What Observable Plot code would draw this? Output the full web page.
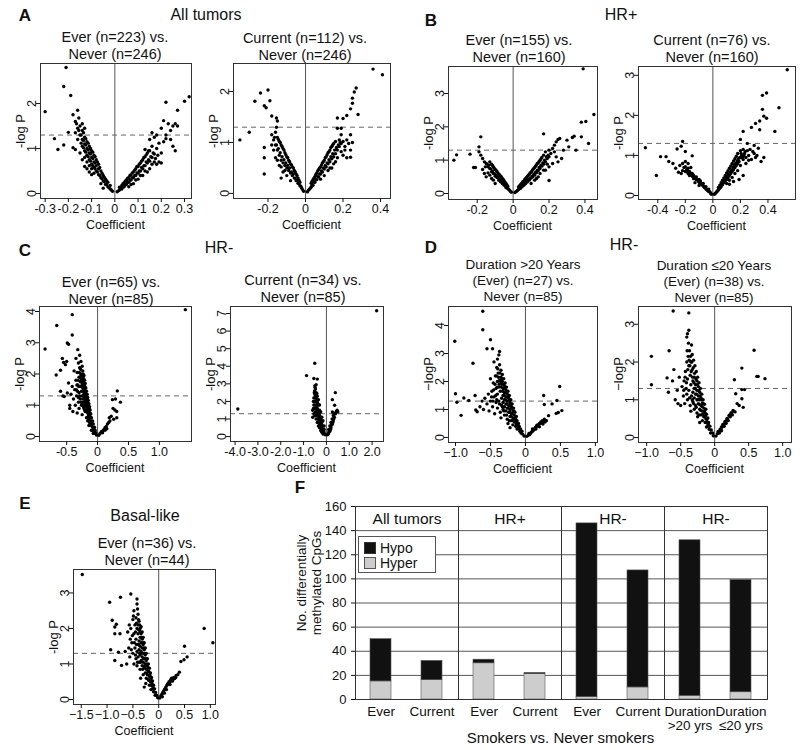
<!DOCTYPE html>
<html>
<head>
<meta charset="utf-8">
<script src="https://cdn.jsdelivr.net/npm/d3@7"></script>
<script src="https://cdn.jsdelivr.net/npm/@observablehq/plot@0.6"></script>
<style>
  html, body { margin: 0; padding: 0; background: #fff; }
  #root { position: relative; width: 800px; height: 750px; background: #fff; font-family: "Liberation Sans", Arial, sans-serif; color: #111; overflow: hidden; }
  .lbl { position: absolute; white-space: nowrap; transform: translate(-50%, -50%); line-height: 1; }
  .chart { position: absolute; }
  .chart svg { overflow: visible; }
</style>
</head>
<body>
<div id="root"></div>
<script>
const FONT = '"Liberation Sans", Arial, sans-serif';
const sigThreshold = 1.3; // -log10(0.05)

// ---------------- Panel A: All tumors ----------------
const a1Points = [[-0.01,0.05],[-0.02,0.1],[-0.02,0.18],[-0.03,0.15],[-0.03,0.25],[-0.04,0.2],[-0.04,0.32],[-0.05,0.28],[-0.05,0.4],[-0.06,0.35],[-0.06,0.5],[-0.07,0.42],[-0.07,0.55],[-0.07,0.65],[-0.08,0.5],[-0.08,0.62],[-0.08,0.75],[-0.09,0.58],[-0.09,0.7],[-0.09,0.85],[-0.1,0.65],[-0.1,0.8],[-0.1,0.95],[-0.11,0.75],[-0.11,0.9],[-0.11,1.05],[-0.12,0.85],[-0.12,1.0],[-0.12,1.15],[-0.13,0.95],[-0.13,1.1],[-0.13,1.25],[-0.14,1.05],[-0.14,1.2],[-0.14,1.4],[-0.15,1.3],[-0.15,1.5],[-0.16,1.2],[-0.16,1.45],[-0.17,1.6],[-0.17,1.35],[-0.18,1.75],[-0.16,1.85],[-0.14,1.55],[-0.13,1.45],[-0.155,1.68],[-0.1,0.55],[-0.12,0.7],[-0.15,0.9],[-0.13,0.6],[-0.14,0.75],[-0.09,0.45],[-0.06,0.22],[-0.05,0.12],[-0.11,0.48],[-0.3,1.82],[-0.21,2.8],[-0.22,2.38],[-0.19,2.18],[-0.26,1.22],[-0.245,0.98],[-0.22,1.08],[-0.2,1.36],[-0.18,1.02],[-0.17,0.98],
 [-0.015,0.08],[-0.025,0.13],[-0.035,0.2],[-0.035,0.28],[-0.045,0.26],[-0.045,0.36],[-0.055,0.33],[-0.055,0.45],[-0.065,0.4],[-0.065,0.58],[-0.075,0.48],[-0.075,0.7],[-0.085,0.55],[-0.085,0.68],[-0.085,0.82],[-0.095,0.62],[-0.095,0.78],[-0.095,0.92],[-0.105,0.72],[-0.105,0.88],[-0.105,1.0],[-0.115,0.82],[-0.115,0.97],[-0.115,1.12],[-0.125,0.92],[-0.125,1.08],[-0.125,1.22],[-0.135,1.02],[-0.135,1.18],[-0.135,1.35],[-0.145,1.12],[-0.145,1.3],[-0.155,1.4],[-0.165,1.55],[-0.11,0.62],[-0.1,0.42],[-0.12,0.55],[-0.13,0.8],
 [0.01,0.04],[0.02,0.08],[0.02,0.14],[0.03,0.1],[0.03,0.18],[0.04,0.15],[0.04,0.24],[0.05,0.2],[0.05,0.3],[0.06,0.25],[0.06,0.35],[0.07,0.3],[0.07,0.42],[0.08,0.35],[0.08,0.48],[0.09,0.4],[0.09,0.55],[0.1,0.45],[0.1,0.6],[0.11,0.5],[0.11,0.68],[0.12,0.55],[0.12,0.75],[0.13,0.62],[0.13,0.82],[0.14,0.68],[0.14,0.9],[0.15,0.72],[0.15,0.95],[0.16,0.8],[0.16,1.05],[0.17,0.7],[0.17,0.88],[0.18,0.65],[0.18,1.0],[0.19,0.7],[0.19,1.12],[0.2,0.68],[0.2,0.9],[0.16,1.35],[0.17,1.25],[0.18,1.3],[0.21,1.15],[0.22,1.22],[0.2,1.45],[0.22,1.3],[0.23,1.55],[0.24,1.4],[0.25,1.5],[0.26,1.55],[0.27,1.5],[0.24,1.2],[0.25,1.05],[0.26,0.95],[0.22,2.03],[0.27,1.85],[0.3,2.05],[0.32,2.15],[0.21,1.62],[0.15,1.2],[0.13,0.98],[0.12,0.4],[0.1,0.32],[0.08,0.22],[0.06,0.15],[0.15,0.55],[0.14,0.48],
 [0.015,0.06],[0.025,0.12],[0.035,0.14],[0.035,0.22],[0.045,0.19],[0.045,0.28],[0.055,0.25],[0.055,0.34],[0.065,0.3],[0.065,0.4],[0.075,0.35],[0.075,0.46],[0.085,0.4],[0.085,0.52],[0.095,0.46],[0.095,0.6],[0.105,0.5],[0.105,0.65],[0.115,0.58],[0.115,0.72],[0.125,0.62],[0.125,0.8],[0.135,0.7],[0.135,0.86],[0.145,0.75],[0.145,0.95],[0.155,0.82],[0.165,0.9],[0.175,0.78],[0.185,0.85],[0.11,0.4],[0.13,0.5],[0.16,0.65],[0.09,0.3],[0.07,0.2]];

const a2Points = [[-0.01,0.04],[-0.02,0.1],[-0.03,0.15],[-0.03,0.22],[-0.04,0.2],[-0.04,0.3],[-0.05,0.25],[-0.05,0.38],[-0.06,0.3],[-0.06,0.45],[-0.07,0.35],[-0.07,0.52],[-0.08,0.4],[-0.08,0.58],[-0.09,0.45],[-0.09,0.65],[-0.1,0.5],[-0.1,0.72],[-0.11,0.55],[-0.11,0.8],[-0.12,0.6],[-0.12,0.88],[-0.13,0.65],[-0.13,0.95],[-0.14,0.75],[-0.14,1.02],[-0.15,0.85],[-0.15,1.1],[-0.16,0.95],[-0.16,1.2],[-0.17,1.05],[-0.18,0.95],[-0.12,0.42],[-0.14,0.55],[-0.1,0.35],[-0.16,0.7],[-0.18,1.15],[-0.13,0.3],[-0.08,0.25],
 [-0.015,0.07],[-0.025,0.14],[-0.035,0.19],[-0.035,0.26],[-0.045,0.25],[-0.045,0.35],[-0.055,0.3],[-0.055,0.42],[-0.065,0.38],[-0.065,0.5],[-0.075,0.42],[-0.075,0.56],[-0.085,0.5],[-0.085,0.62],[-0.095,0.55],[-0.095,0.7],[-0.105,0.6],[-0.105,0.76],[-0.115,0.66],[-0.115,0.85],[-0.125,0.72],[-0.125,0.92],[-0.135,0.8],[-0.135,1.0],[-0.145,0.88],[-0.145,1.06],[-0.155,0.95],[-0.165,1.1],[-0.11,0.45],[-0.13,0.52],[-0.15,0.65],[-0.17,0.85],
 [-0.35,1.05],[-0.3,1.2],[-0.27,1.81],[-0.24,1.97],[-0.2,2.03],[-0.22,0.9],[-0.22,0.7],[-0.22,0.38],[-0.22,1.72],[-0.21,1.68],[-0.19,1.82],[-0.18,1.52],[-0.155,1.48],[-0.15,1.42],[-0.155,1.3],
 [0.01,0.03],[0.02,0.08],[0.03,0.12],[0.03,0.2],[0.04,0.16],[0.04,0.27],[0.05,0.22],[0.05,0.33],[0.06,0.27],[0.06,0.4],[0.07,0.32],[0.07,0.47],[0.08,0.38],[0.08,0.52],[0.09,0.42],[0.09,0.6],[0.1,0.48],[0.1,0.65],[0.11,0.52],[0.11,0.72],[0.12,0.58],[0.12,0.8],[0.13,0.62],[0.13,0.85],[0.14,0.68],[0.14,0.92],[0.15,0.72],[0.15,0.98],[0.16,0.78],[0.16,1.02],[0.17,0.85],[0.18,0.92],[0.18,1.05],[0.19,0.98],[0.2,1.02],[0.21,0.92],[0.22,1.05],[0.23,0.98],[0.24,0.85],[0.25,1.0],[0.24,1.15],[0.19,1.15],[0.1,0.35],[0.12,0.45],[0.14,0.5],[0.08,0.28],[0.16,0.62],[0.2,0.75],[0.22,0.7],
 [0.015,0.06],[0.025,0.1],[0.035,0.16],[0.035,0.24],[0.045,0.22],[0.045,0.3],[0.055,0.27],[0.055,0.37],[0.065,0.33],[0.065,0.44],[0.075,0.38],[0.075,0.5],[0.085,0.44],[0.085,0.56],[0.095,0.5],[0.095,0.62],[0.105,0.55],[0.105,0.7],[0.115,0.6],[0.115,0.76],[0.125,0.66],[0.125,0.82],[0.135,0.72],[0.135,0.9],[0.145,0.78],[0.145,0.95],[0.155,0.85],[0.165,0.9],[0.175,0.95],[0.185,1.0],[0.13,0.5],[0.15,0.58],[0.17,0.7],[0.19,0.82],[0.21,0.85],
 [0.36,2.44],[0.41,2.33],[0.27,2.07],[0.26,1.99],[0.25,1.87],[0.25,1.77],[0.28,1.55],[0.24,1.66],[0.22,1.53],[0.17,1.48],[0.2,1.47],[0.17,1.28],[0.19,1.28],[0.24,0.71]];

// ---------------- Panel B: HR+ ----------------
const b1Points = [[-0.01,0.04],[-0.02,0.1],[-0.03,0.15],[-0.03,0.22],[-0.04,0.18],[-0.04,0.3],[-0.05,0.25],[-0.05,0.38],[-0.06,0.3],[-0.06,0.45],[-0.07,0.35],[-0.07,0.52],[-0.08,0.4],[-0.08,0.58],[-0.09,0.48],[-0.09,0.66],[-0.1,0.52],[-0.1,0.72],[-0.11,0.6],[-0.11,0.8],[-0.12,0.65],[-0.12,0.88],[-0.13,0.75],[-0.13,0.95],[-0.14,0.8],[-0.15,0.9],[-0.16,0.95],[-0.17,1.05],[-0.18,1.15],[-0.19,1.25],[-0.18,1.7],[-0.19,1.4],[-0.17,0.72],[-0.16,0.6],[-0.15,0.5],[-0.24,1.18],[-0.22,0.78],[-0.21,0.78],[-0.33,1.0],[-0.315,1.16],[-0.12,0.45],[-0.1,0.3],[-0.14,0.62],
 [-0.015,0.07],[-0.025,0.13],[-0.035,0.18],[-0.035,0.26],[-0.045,0.24],[-0.045,0.34],[-0.055,0.3],[-0.055,0.42],[-0.065,0.36],[-0.065,0.5],[-0.075,0.42],[-0.075,0.56],[-0.085,0.48],[-0.085,0.62],[-0.095,0.55],[-0.095,0.7],[-0.105,0.6],[-0.105,0.76],[-0.115,0.68],[-0.115,0.84],[-0.125,0.74],[-0.135,0.85],[-0.145,0.88],[-0.155,0.8],[-0.11,0.4],[-0.13,0.55],
 [0.01,0.03],[0.02,0.07],[0.03,0.12],[0.03,0.2],[0.04,0.15],[0.04,0.26],[0.05,0.2],[0.05,0.32],[0.06,0.25],[0.06,0.38],[0.07,0.3],[0.07,0.45],[0.08,0.35],[0.08,0.52],[0.09,0.4],[0.09,0.58],[0.1,0.46],[0.1,0.64],[0.11,0.5],[0.11,0.72],[0.12,0.55],[0.12,0.78],[0.13,0.62],[0.13,0.86],[0.14,0.68],[0.14,0.92],[0.15,0.75],[0.15,1.0],[0.16,0.82],[0.16,1.08],[0.17,0.88],[0.17,1.15],[0.18,0.95],[0.18,1.25],[0.19,1.05],[0.2,1.1],[0.2,1.3],[0.21,1.2],[0.22,1.35],[0.23,1.45],[0.24,1.55],[0.25,1.62],[0.26,1.65],[0.23,1.25],[0.24,1.1],[0.25,0.95],[0.27,1.05],[0.28,1.3],[0.3,1.6],[0.31,1.4],[0.33,1.68],[0.35,1.3],[0.34,1.72],[0.38,1.7],[0.38,2.14],[0.405,2.16],[0.39,3.74],[0.45,2.37],[0.42,1.5],[0.17,1.79],[0.2,0.39],[0.12,0.4],[0.1,0.3],[0.14,0.5],[0.18,0.7],[0.22,0.9],[0.2,0.8],
 [0.015,0.05],[0.025,0.1],[0.035,0.15],[0.035,0.23],[0.045,0.2],[0.045,0.29],[0.055,0.25],[0.055,0.36],[0.065,0.3],[0.065,0.42],[0.075,0.36],[0.075,0.48],[0.085,0.42],[0.085,0.55],[0.095,0.46],[0.095,0.62],[0.105,0.52],[0.105,0.68],[0.115,0.58],[0.115,0.75],[0.125,0.64],[0.125,0.82],[0.135,0.7],[0.135,0.9],[0.145,0.78],[0.145,0.96],[0.155,0.85],[0.155,1.04],[0.165,0.92],[0.175,1.0],[0.185,1.1],[0.195,1.15],[0.13,0.45],[0.15,0.6],[0.17,0.7],[0.19,0.88]];

const b2Points = [[-0.01,0.03],[-0.02,0.08],[-0.03,0.1],[-0.03,0.16],[-0.04,0.13],[-0.05,0.16],[-0.05,0.22],[-0.06,0.2],[-0.07,0.24],[-0.07,0.3],[-0.08,0.27],[-0.09,0.3],[-0.09,0.36],[-0.1,0.33],[-0.11,0.38],[-0.12,0.4],[-0.12,0.46],[-0.13,0.42],[-0.14,0.5],[-0.15,0.48],[-0.15,0.55],[-0.16,0.52],[-0.17,0.6],[-0.18,0.55],[-0.19,0.65],[-0.2,0.6],[-0.21,0.7],[-0.22,0.62],[-0.23,0.55],[-0.24,0.75],[-0.2,0.85],[-0.22,1.35],[-0.23,1.23],[-0.26,1.16],[-0.2,1.1],[-0.15,0.99],[-0.32,0.85],[-0.34,0.97],[-0.38,0.97],[-0.41,0.5],[-0.49,1.19],[-0.25,0.58],[-0.18,0.8],[-0.16,0.7],[-0.1,0.25],[-0.13,0.32],[-0.27,0.68],[-0.29,0.8],
 [-0.015,0.05],[-0.025,0.1],[-0.035,0.12],[-0.045,0.16],[-0.055,0.19],[-0.065,0.22],[-0.075,0.27],[-0.085,0.3],[-0.095,0.33],[-0.105,0.36],[-0.115,0.4],[-0.125,0.43],[-0.135,0.47],[-0.145,0.52],[-0.155,0.52],[-0.165,0.56],[-0.175,0.58],[-0.185,0.62],[-0.195,0.6],[-0.1,0.4],[-0.14,0.42],[-0.17,0.5],[-0.2,0.72],[-0.22,0.8],[-0.18,0.68],
 [0.01,0.03],[0.02,0.06],[0.03,0.1],[0.04,0.14],[0.04,0.2],[0.05,0.18],[0.05,0.26],[0.06,0.22],[0.06,0.32],[0.07,0.27],[0.07,0.38],[0.08,0.32],[0.08,0.44],[0.09,0.36],[0.09,0.5],[0.1,0.4],[0.1,0.56],[0.11,0.45],[0.11,0.62],[0.12,0.5],[0.12,0.68],[0.13,0.55],[0.13,0.74],[0.14,0.6],[0.14,0.8],[0.15,0.64],[0.15,0.86],[0.16,0.7],[0.16,0.92],[0.17,0.75],[0.17,0.98],[0.18,0.8],[0.18,1.05],[0.19,0.85],[0.2,0.95],[0.2,1.12],[0.21,1.0],[0.22,0.9],[0.22,1.15],[0.23,1.05],[0.24,0.95],[0.25,1.12],[0.26,1.0],[0.27,1.15],[0.28,0.9],[0.3,1.05],[0.32,1.0],[0.33,1.18],[0.35,0.85],[0.3,1.25],[0.25,1.3],[0.2,1.4],[0.22,1.6],[0.28,1.7],[0.31,1.8],[0.34,1.64],[0.34,1.86],[0.36,2.15],[0.37,1.98],[0.39,1.93],[0.36,2.5],[0.39,2.56],[0.48,2.19],[0.45,1.6],[0.54,3.14],[0.37,0.95],[0.19,0.4],[0.15,0.35],[0.12,0.28],[0.22,0.5],
 [0.015,0.04],[0.025,0.08],[0.035,0.12],[0.045,0.17],[0.055,0.22],[0.065,0.28],[0.075,0.32],[0.085,0.38],[0.095,0.43],[0.105,0.48],[0.115,0.53],[0.125,0.58],[0.135,0.64],[0.145,0.7],[0.155,0.75],[0.165,0.8],[0.175,0.86],[0.185,0.92],[0.195,0.95],[0.205,1.05],[0.215,0.95],[0.225,1.0],[0.235,1.1],[0.1,0.3],[0.12,0.38],[0.14,0.45],[0.16,0.55],[0.18,0.62],[0.2,0.75],[0.24,0.8],[0.26,0.88],[0.29,1.1],[0.31,0.95]];

// ---------------- Panel C: HR- ----------------
const c1Points = [[-0.02,0.05],[-0.03,0.12],[-0.04,0.2],[-0.05,0.15],[-0.05,0.3],[-0.06,0.25],[-0.07,0.4],[-0.08,0.3],[-0.08,0.5],[-0.09,0.42],[-0.1,0.6],[-0.1,0.35],[-0.11,0.5],[-0.11,0.72],[-0.12,0.6],[-0.12,0.85],[-0.13,0.45],[-0.13,0.7],[-0.13,0.95],[-0.14,0.55],[-0.14,0.8],[-0.14,1.05],[-0.15,0.65],[-0.15,0.9],[-0.15,1.15],[-0.16,0.75],[-0.16,1.0],[-0.16,1.25],[-0.17,0.85],[-0.17,1.1],[-0.17,1.35],[-0.18,0.95],[-0.18,1.2],[-0.18,1.45],[-0.19,1.05],[-0.19,1.3],[-0.19,1.55],[-0.2,0.8],[-0.2,1.15],[-0.2,1.4],[-0.2,1.7],[-0.21,1.0],[-0.21,1.25],[-0.21,1.5],[-0.21,1.8],[-0.22,0.9],[-0.22,1.35],[-0.22,1.6],[-0.22,1.95],[-0.23,1.1],[-0.23,1.45],[-0.23,1.75],[-0.24,1.2],[-0.24,1.55],[-0.24,1.9],[-0.24,2.1],[-0.25,1.3],[-0.25,1.65],[-0.25,2.25],[-0.26,1.0],[-0.26,1.45],[-0.26,1.85],[-0.27,1.6],[-0.27,2.0],[-0.27,2.4],[-0.28,1.2],[-0.28,1.75],[-0.29,2.2],[-0.29,2.6],[-0.3,1.4],[-0.3,1.9],[-0.31,2.35],[-0.31,1.1],[-0.32,1.65],[-0.32,2.78],[-0.33,2.05],[-0.34,1.3],[-0.35,1.8],[-0.35,2.5],[-0.36,1.0],[-0.37,1.5],[-0.38,2.1],[-0.39,1.2],[-0.4,0.8],[-0.41,1.6],[-0.41,3.25],[-0.41,3.9],[-0.43,1.35],[-0.45,0.9],[-0.45,1.0],[-0.47,1.71],[-0.47,2.95],[-0.49,1.39],[-0.49,2.99],[-0.5,2.4],[-0.52,2.3],[-0.54,1.28],[-0.55,2.37],[-0.56,1.3],[-0.57,2.5],[-0.6,1.45],[-0.6,2.12],[-0.66,3.55],[-0.67,1.97],[-0.85,2.8],[-0.3,0.9],[-0.25,0.7],[-0.33,0.75],[-0.18,0.6],[-0.1,0.2],[-0.07,0.1],
 [-0.105,0.45],[-0.115,0.62],[-0.125,0.75],[-0.135,0.62],[-0.135,0.88],[-0.145,0.72],[-0.145,0.95],[-0.155,0.8],[-0.155,1.05],[-0.165,0.9],[-0.165,1.15],[-0.175,1.0],[-0.175,1.25],[-0.185,1.1],[-0.185,1.35],[-0.195,1.2],[-0.195,1.45],[-0.205,1.3],[-0.205,1.6],[-0.215,1.4],[-0.215,1.7],[-0.225,1.5],[-0.225,1.85],[-0.235,1.6],[-0.235,2.0],[-0.245,1.7],[-0.255,1.8],[-0.265,1.95],[-0.275,2.15],[-0.285,1.9],[-0.295,2.05],[-0.305,1.6],[-0.315,1.8],[-0.325,1.45],[-0.335,1.65],[-0.345,1.5],[-0.23,0.95],[-0.27,1.1],[-0.29,1.3],[-0.31,1.25],[-0.25,1.05],[-0.19,0.8],[-0.21,0.85],[-0.16,0.5],[-0.14,0.35],[-0.08,0.2],[-0.06,0.1],
 [0.02,0.04],[0.04,0.1],[0.06,0.15],[0.08,0.18],[0.1,0.22],[0.12,0.28],[0.14,0.32],[0.16,0.4],[0.18,0.45],[0.2,0.5],[0.15,0.25],[0.19,0.6],[0.22,0.65],[0.26,0.55],[0.31,0.6],[0.25,0.9],[0.28,0.85],[0.31,0.8],[0.24,1.18],[0.29,1.2],[0.37,1.1],[0.32,1.46],[0.12,0.2],[0.08,0.12],[1.42,4.06]];

const c2Points = [[-0.05,0.1],[-0.1,0.2],[-0.1,0.4],[-0.15,0.3],[-0.15,0.6],[-0.2,0.5],[-0.2,0.8],[-0.25,0.6],[-0.25,1.0],[-0.3,0.8],[-0.3,1.2],[-0.3,1.5],[-0.35,1.0],[-0.35,1.4],[-0.35,1.8],[-0.4,1.2],[-0.4,1.6],[-0.4,2.0],[-0.4,2.3],[-0.45,1.4],[-0.45,1.8],[-0.45,2.2],[-0.45,2.5],[-0.5,1.6],[-0.5,2.0],[-0.5,2.4],[-0.5,2.8],[-0.55,1.3],[-0.55,1.8],[-0.55,2.2],[-0.6,1.5],[-0.6,1.1],[-0.5,1.2],[-0.45,1.0],[-0.4,0.8],[-0.35,0.6],[-0.3,0.5],[-0.25,0.35],[-0.2,0.25],[-0.15,0.15],[-0.5,2.9],[-0.45,2.95],[-0.55,3.3],[-0.4,3.27],[-0.51,4.17],[-0.87,3.47],[-3.88,1.57],[-0.2,1.1],[-0.25,1.4],[-0.3,1.8],[-0.35,2.1],[-0.15,0.9],[-0.1,0.6],
 [-0.08,0.15],[-0.12,0.3],[-0.18,0.4],[-0.22,0.65],[-0.28,0.7],[-0.28,1.0],[-0.32,1.1],[-0.33,1.3],[-0.38,1.5],[-0.38,1.9],[-0.42,1.7],[-0.42,2.1],[-0.47,1.6],[-0.47,2.0],[-0.47,2.35],[-0.52,1.8],[-0.52,2.2],[-0.52,2.6],[-0.57,1.6],[-0.57,2.0],[-0.42,2.45],[-0.48,2.7],[-0.53,2.5],[-0.38,1.3],[-0.43,1.2],[-0.48,1.4],[-0.33,0.9],[-0.23,0.9],
 [0.05,0.1],[0.1,0.2],[0.1,0.4],[0.15,0.3],[0.15,0.6],[0.2,0.5],[0.2,0.8],[0.25,0.7],[0.25,1.0],[0.3,0.9],[0.3,1.2],[0.35,1.1],[0.4,1.3],[0.26,1.4],[0.47,1.5],[0.36,1.78],[0.26,2.1],[0.39,2.5],[0.45,1.45],[0.5,1.4],[2.2,7.16],
 [0.08,0.15],[0.12,0.3],[0.18,0.4],[0.22,0.65],[0.28,0.8],[0.32,1.0],[0.35,1.3],[0.42,1.4]];

// ---------------- Panel D: HR-, by duration ----------------
const d1Points = [[-0.02,0.05],[-0.04,0.12],[-0.05,0.22],[-0.06,0.15],[-0.07,0.3],[-0.08,0.22],[-0.09,0.4],[-0.1,0.3],[-0.1,0.5],[-0.11,0.4],[-0.12,0.6],[-0.12,0.3],[-0.13,0.5],[-0.13,0.75],[-0.14,0.4],[-0.14,0.65],[-0.15,0.9],[-0.16,0.55],[-0.16,0.8],[-0.17,1.05],[-0.18,0.45],[-0.18,0.7],[-0.18,0.95],[-0.19,1.2],[-0.2,0.6],[-0.2,0.85],[-0.2,1.1],[-0.21,1.35],[-0.22,0.75],[-0.22,1.0],[-0.22,1.25],[-0.23,1.5],[-0.24,0.9],[-0.24,1.15],[-0.24,1.4],[-0.25,1.65],[-0.26,0.65],[-0.26,1.05],[-0.26,1.3],[-0.26,1.55],[-0.27,1.8],[-0.28,0.95],[-0.28,1.2],[-0.28,1.45],[-0.28,1.7],[-0.29,1.95],[-0.3,0.8],[-0.3,1.1],[-0.3,1.35],[-0.3,1.6],[-0.3,1.85],[-0.31,2.1],[-0.32,1.0],[-0.32,1.25],[-0.32,1.5],[-0.32,1.75],[-0.33,2.0],[-0.33,2.25],[-0.34,1.15],[-0.34,1.4],[-0.34,1.9],[-0.35,2.15],[-0.35,2.4],[-0.36,0.9],[-0.36,1.65],[-0.37,2.05],[-0.37,2.6],[-0.38,1.3],[-0.38,1.8],[-0.39,2.3],[-0.4,1.05],[-0.4,1.55],[-0.4,2.0],[-0.41,2.5],[-0.42,1.25],[-0.42,1.75],[-0.43,2.2],[-0.44,0.85],[-0.45,1.45],[-0.46,1.95],[-0.47,1.1],[-0.48,1.65],[-0.5,1.3],[-0.5,2.1],[-0.52,0.95],[-0.53,1.55],[-0.55,1.2],[-0.58,1.4],[-0.6,1.0],[-0.62,1.3],[-0.65,1.1],[-0.69,0.92],[-0.71,0.98],[-0.72,1.5],[-0.81,1.32],[-0.88,1.41],[-0.92,0.79],[-0.98,1.26],[-1.0,1.56],[-1.01,3.44],[-0.75,2.65],[-0.37,3.07],[-0.47,3.17],[-0.55,3.17],[-0.5,3.49],[-0.61,3.85],[-0.61,4.51],[-0.4,2.8],[-0.38,2.95],[-0.45,2.7],[-0.25,0.5],[-0.35,0.7],[-0.22,0.35],
 [-0.095,0.35],[-0.115,0.45],[-0.135,0.58],[-0.155,0.7],[-0.165,0.95],[-0.175,0.62],[-0.185,0.85],[-0.195,1.05],[-0.205,0.75],[-0.215,1.15],[-0.225,0.9],[-0.235,1.3],[-0.245,1.05],[-0.255,1.45],[-0.265,1.2],[-0.275,1.6],[-0.285,1.35],[-0.295,1.75],[-0.305,1.5],[-0.315,1.9],[-0.325,1.65],[-0.335,2.1],[-0.345,1.8],[-0.355,2.0],[-0.365,2.3],[-0.375,1.9],[-0.385,2.15],[-0.395,2.45],[-0.405,1.8],[-0.415,2.2],[-0.425,1.5],[-0.435,1.9],[-0.455,1.7],[-0.465,1.3],[-0.485,1.45],[-0.27,0.8],[-0.31,0.95],[-0.33,1.1],[-0.37,1.2],[-0.41,1.35],[-0.23,0.6],
 [0.02,0.04],[0.04,0.08],[0.05,0.14],[0.06,0.1],[0.08,0.18],[0.1,0.22],[0.1,0.3],[0.12,0.28],[0.14,0.35],[0.15,0.3],[0.16,0.42],[0.18,0.4],[0.2,0.5],[0.2,0.38],[0.22,0.55],[0.24,0.6],[0.25,0.48],[0.27,0.65],[0.28,0.55],[0.3,0.6],[0.33,0.78],[0.44,0.86],[0.47,0.89],[0.52,0.96],[0.38,1.2],[0.27,1.18],[0.45,1.32],[0.26,1.5],[0.49,1.82],
 [0.07,0.14],[0.09,0.2],[0.11,0.25],[0.13,0.3],[0.15,0.38],[0.17,0.45],[0.19,0.45],[0.21,0.5],[0.23,0.52],[0.26,0.58]];

const d2Points = [[-0.02,0.05],[-0.03,0.12],[-0.05,0.2],[-0.06,0.12],[-0.07,0.3],[-0.08,0.22],[-0.09,0.4],[-0.1,0.3],[-0.1,0.52],[-0.11,0.4],[-0.12,0.62],[-0.12,0.28],[-0.13,0.5],[-0.13,0.75],[-0.14,0.4],[-0.14,0.65],[-0.15,0.88],[-0.16,0.55],[-0.16,0.78],[-0.17,1.0],[-0.18,0.45],[-0.18,0.7],[-0.18,0.92],[-0.19,1.15],[-0.2,0.6],[-0.2,0.85],[-0.2,1.05],[-0.21,1.3],[-0.22,0.75],[-0.22,1.0],[-0.22,1.2],[-0.23,1.45],[-0.24,0.9],[-0.24,1.1],[-0.24,1.35],[-0.25,1.6],[-0.26,0.65],[-0.26,1.0],[-0.26,1.25],[-0.26,1.5],[-0.27,1.75],[-0.28,0.85],[-0.28,1.15],[-0.28,1.4],[-0.29,1.9],[-0.3,0.75],[-0.3,1.05],[-0.3,1.3],[-0.3,1.6],[-0.31,2.05],[-0.32,0.95],[-0.32,1.2],[-0.32,1.5],[-0.33,1.8],[-0.33,2.2],[-0.34,1.1],[-0.35,1.4],[-0.35,2.0],[-0.36,0.85],[-0.36,1.65],[-0.37,2.3],[-0.38,1.25],[-0.38,1.9],[-0.39,2.15],[-0.4,1.0],[-0.4,1.55],[-0.41,2.0],[-0.42,1.3],[-0.43,1.75],[-0.44,0.9],[-0.45,1.5],[-0.46,1.1],[-0.48,1.35],[-0.5,0.85],[-0.52,1.6],[-0.54,0.9],[-0.55,1.25],[-0.58,1.0],[-0.6,1.8],[-0.62,1.5],[-0.67,2.3],[-0.68,1.2],[-0.7,1.58],[-0.61,3.35],[-0.38,3.3],[-0.41,2.66],[-0.4,2.75],[-0.38,2.84],[-0.93,2.15],[-0.93,1.4],[-0.34,2.45],[-0.22,0.4],[-0.25,0.55],[-0.35,0.7],
 [-0.095,0.35],[-0.115,0.48],[-0.135,0.58],[-0.155,0.7],[-0.165,0.9],[-0.175,0.62],[-0.185,0.82],[-0.195,1.0],[-0.205,0.72],[-0.215,1.1],[-0.225,0.88],[-0.235,1.25],[-0.245,1.0],[-0.255,1.4],[-0.265,1.15],[-0.275,1.55],[-0.285,1.3],[-0.295,1.7],[-0.305,1.45],[-0.315,1.85],[-0.325,1.6],[-0.335,2.0],[-0.345,1.75],[-0.355,2.15],[-0.365,1.9],[-0.375,2.05],[-0.385,2.5],[-0.395,1.8],[-0.405,2.3],[-0.415,1.45],[-0.435,1.6],[-0.455,1.25],[-0.27,0.8],[-0.31,0.9],[-0.33,1.0],[-0.37,1.05],[-0.41,1.15],[-0.23,0.6],
 [0.02,0.04],[0.04,0.1],[0.05,0.16],[0.07,0.12],[0.08,0.22],[0.1,0.28],[0.1,0.18],[0.12,0.35],[0.14,0.3],[0.15,0.42],[0.17,0.38],[0.18,0.5],[0.2,0.45],[0.21,0.58],[0.23,0.55],[0.24,0.65],[0.26,0.6],[0.28,0.7],[0.3,0.68],[0.33,0.9],[0.36,0.85],[0.42,0.8],[0.4,1.03],[0.31,1.16],[0.4,1.27],[0.44,1.27],[0.29,1.53],[0.4,1.84],[0.62,1.62],[0.64,1.62],[0.74,1.56],[0.58,2.31],
 [0.07,0.16],[0.09,0.22],[0.11,0.28],[0.13,0.32],[0.15,0.38],[0.17,0.45],[0.19,0.5],[0.22,0.6],[0.25,0.65],[0.27,0.72]];

// ---------------- Panel E: Basal-like ----------------
const ePoints = [[-0.02,0.05],[-0.04,0.12],[-0.06,0.2],[-0.07,0.12],[-0.08,0.3],[-0.1,0.22],[-0.1,0.4],[-0.12,0.3],[-0.12,0.52],[-0.14,0.4],[-0.14,0.62],[-0.15,0.28],[-0.16,0.5],[-0.16,0.75],[-0.18,0.4],[-0.18,0.65],[-0.18,0.88],[-0.2,0.55],[-0.2,0.8],[-0.2,1.0],[-0.22,0.7],[-0.22,0.95],[-0.22,1.15],[-0.24,0.6],[-0.24,0.85],[-0.24,1.1],[-0.24,1.3],[-0.26,0.75],[-0.26,1.0],[-0.26,1.25],[-0.26,1.45],[-0.28,0.9],[-0.28,1.15],[-0.28,1.4],[-0.28,1.6],[-0.3,0.7],[-0.3,1.05],[-0.3,1.3],[-0.3,1.55],[-0.3,1.75],[-0.32,0.95],[-0.32,1.2],[-0.32,1.45],[-0.32,1.7],[-0.32,1.9],[-0.34,1.1],[-0.34,1.35],[-0.34,1.6],[-0.34,1.85],[-0.34,2.05],[-0.36,0.85],[-0.36,1.25],[-0.36,1.5],[-0.36,1.75],[-0.36,2.0],[-0.38,1.05],[-0.38,1.4],[-0.38,1.65],[-0.38,1.95],[-0.38,2.2],[-0.4,1.2],[-0.4,1.55],[-0.4,1.85],[-0.4,2.1],[-0.4,2.4],[-0.42,0.95],[-0.42,1.35],[-0.42,2.0],[-0.42,2.69],[-0.42,2.83],[-0.44,1.15],[-0.44,1.7],[-0.44,2.3],[-0.46,1.45],[-0.46,2.1],[-0.48,1.0],[-0.48,1.85],[-0.48,2.5],[-0.5,1.3],[-0.5,2.25],[-0.52,1.6],[-0.54,2.0],[-0.54,2.97],[-0.56,1.2],[-0.58,1.45],[-0.6,1.9],[-0.62,1.0],[-0.65,1.35],[-0.72,0.96],[-0.74,2.88],[-0.75,1.85],[-0.78,1.33],[-0.82,2.12],[-0.85,1.85],[-0.85,2.04],[-0.85,1.1],[-0.9,2.23],[-0.93,1.4],[-0.95,2.74],[-1.48,3.52],[-0.25,0.45],[-0.35,0.6],[-0.28,0.35],
 [-0.09,0.3],[-0.11,0.35],[-0.13,0.45],[-0.15,0.58],[-0.17,0.68],[-0.19,0.78],[-0.21,0.9],[-0.23,1.0],[-0.25,1.15],[-0.27,1.3],[-0.29,1.45],[-0.31,1.6],[-0.33,1.75],[-0.35,1.9],[-0.37,2.1],[-0.39,2.25],[-0.41,2.55],[-0.43,2.15],[-0.45,1.9],[-0.47,1.6],[-0.49,2.35],[-0.51,1.8],[-0.53,1.4],[-0.55,1.7],[-0.57,2.1],[-0.27,0.95],[-0.29,1.15],[-0.31,0.85],[-0.33,1.3],[-0.35,1.05],[-0.37,1.3],[-0.39,1.55],[-0.41,1.05],[-0.43,1.55],[-0.45,1.25],[-0.23,0.75],[-0.19,0.55],
 [0.02,0.04],[0.04,0.1],[0.06,0.15],[0.07,0.08],[0.08,0.2],[0.1,0.25],[0.11,0.18],[0.12,0.3],[0.14,0.35],[0.15,0.28],[0.16,0.4],[0.18,0.45],[0.2,0.5],[0.22,0.42],[0.23,0.55],[0.25,0.6],[0.27,0.52],[0.29,0.62],[0.31,0.59],[0.34,0.68],[0.4,0.77],[0.43,1.07],[0.49,1.12],[0.55,1.2],[0.5,1.5],[0.88,2.0],[1.05,1.6],
 [0.09,0.22],[0.13,0.32],[0.17,0.42],[0.21,0.48],[0.24,0.52],[0.28,0.58],[0.33,0.62],[0.37,0.7]];

// tick values and tick labels
const xTicksA1 = [-0.3,-0.2,-0.1,0,0.1,0.2,0.3];
const xLabelsA1 = ["-0.3","-0.2","-0.1","0","0.1","0.2","0.3"];
const xTicksA2 = [-0.2,0,0.2,0.4];
const xLabelsA2 = ["-0.2","0","0.2","0.4"];
const xTicksB1 = [-0.2,0,0.2,0.4];
const xLabelsB1 = ["-0.2","0","0.2","0.4"];
const xTicksB2 = [-0.4,-0.2,0,0.2,0.4];
const xLabelsB2 = ["-0.4","-0.2","0","0.2","0.4"];
const xTicksC1 = [-0.5,0,0.5,1.0];
const xLabelsC1 = ["-0.5","0","0.5","1.0"];
const xTicksC2 = [-4,-3,-2,-1,0,1,2];
const xLabelsC2 = ["-4.0","-3.0","-2.0","-1.0","0","1.0","2.0"];
const xTicksD = [-1,-0.5,0,0.5,1];
const xLabelsD = ["\u22121.0","\u22120.5","0","0.5","1.0"];
const xTicksE = [-1.5,-1,-0.5,0,0.5,1];
const xLabelsE = ["\u22121.5","\u22121.0","\u22120.5","0","0.5","1.0"];

// ---------------- Panel F: counts of differentially methylated CpGs ----------------
const groupKeys = ["g1","g2","g3","g4"];
const groupNames = ["All tumors","HR+","HR-","HR-"];
const barGroups = ["g1","g1","g2","g2","g3","g3","g4","g4"];
const barSlots = ["first","second","first","second","first","second","first","second"];
const barLabels = ["Ever","Current","Ever","Current","Ever","Current","Duration\n>20 yrs","Duration\n\u226420 yrs"];
const hyperCounts = [15,16,30,21,2,10,3,6];
const hypoCounts = [35,16,3,1,144,97,129,93];
const fTicks = [0,20,40,60,80,100,120,140,160];
const fGrid = [20,40,60,80,100,120,140];
const headerLevel = 150;

// ------------------------------------------------------------------
const root = document.getElementById("root");

function addLabel(text, x, y, opts = {}) {
  const el = document.createElement("div");
  el.className = "lbl";
  el.textContent = text;
  el.style.left = x + "px";
  el.style.top = y + "px";
  el.style.fontSize = (opts.size || 13) + "px";
  if (opts.bold) el.style.fontWeight = "bold";
  if (opts.rotate) el.style.transform = "translate(-50%, -50%) rotate(" + opts.rotate + "deg)";
  if (opts.multi) { el.style.whiteSpace = "pre"; el.style.textAlign = "center"; el.style.lineHeight = "1.1"; }
  root.appendChild(el);
  return el;
}

const ML = 40, MR = 2, MT = 2, MB = 44;

function volcano(p) {
  const chart = Plot.plot({
    width: p.fw + ML + MR,
    height: p.fh + MT + MB,
    marginLeft: ML, marginRight: MR, marginTop: MT, marginBottom: MB,
    style: {fontFamily: FONT, fontSize: "12.5px", color: "#111", background: "transparent"},
    x: {domain: p.xd},
    y: {domain: p.yd},
    marks: [
      Plot.ruleX([0], {stroke: "#555", strokeWidth: 1}),
      Plot.ruleY([sigThreshold], {stroke: "#666", strokeWidth: 1, strokeDasharray: "5,4"}),
      Plot.dot(p.pts, {x: d => d[0], y: d => d[1], r: 1.7, fill: "#000", stroke: "none"}),
      Plot.frame({stroke: "#333", strokeWidth: 1}),
      Plot.axisX({ticks: p.xt, tickFormat: d => p.xl[p.xt.indexOf(d)], tickSize: 4, tickPadding: 2, label: null}),
      Plot.axisY({ticks: p.yt, tickFormat: () => "", tickSize: 4, label: null}),
      Plot.text(p.yt, {y: d => d, text: d => String(d), frameAnchor: "left", dx: -5, rotate: -90, lineAnchor: "bottom", textAnchor: "middle"})
    ]
  });
  const holder = document.createElement("div");
  holder.className = "chart";
  holder.style.left = (p.fl - ML) + "px";
  holder.style.top = (p.ft - MT) + "px";
  holder.appendChild(chart);
  root.appendChild(holder);
  // titles & axis labels
  p.title.forEach((t, i) => addLabel(t, p.tx, p.ty[i], {size: p.tsize || 14.5}));
  const cx = p.fl + p.fw / 2, cy = p.ft + p.fh / 2;
  addLabel("Coefficient", cx, p.ft + p.fh + 27, {size: 12.5});
  addLabel(p.ylab, p.fl - 20, cy, {size: 13, rotate: -90});
}

volcano({pts: a1Points, fl: 40, ft: 63, fw: 151, fh: 135, xd: [-0.32, 0.33], yd: [-0.11, 2.89], xt: xTicksA1, xl: xLabelsA1, yt: [0,1,2], ylab: "-log P", title: ["Ever (n=223) vs.", "Never (n=246)"], tx: 115, ty: [37, 54]});
volcano({pts: a2Points, fl: 233, ft: 63, fw: 157, fh: 135, xd: [-0.384, 0.453], yd: [-0.1, 2.55], xt: xTicksA2, xl: xLabelsA2, yt: [0,1,2], ylab: "-log P", title: ["Current (n=112) vs.", "Never (n=246)"], tx: 305, ty: [38, 55]});
volcano({pts: b1Points, fl: 448, ft: 66, fw: 149, fh: 133, xd: [-0.36, 0.47], yd: [-0.18, 3.81], xt: xTicksB1, xl: xLabelsB1, yt: [0,1,2,3], ylab: "-log P", title: ["Ever (n=155)  vs.", "Never (n=160)"], tx: 519, ty: [40, 57]});
volcano({pts: b2Points, fl: 638, ft: 66, fw: 157, fh: 133, xd: [-0.54, 0.60], yd: [-0.1, 3.22], xt: xTicksB2, xl: xLabelsB2, yt: [0,1,2,3], ylab: "-log P", title: ["Current (n=76) vs.", "Never (n=160)"], tx: 712, ty: [40, 57]});
volcano({pts: c1Points, fl: 39, ft: 306, fw: 152, fh: 135, xd: [-0.94, 1.52], yd: [-0.16, 4.16], xt: xTicksC1, xl: xLabelsC1, yt: [0,1,2,3,4], ylab: "-log P", title: ["Ever (n=65) vs.", "Never (n=85)"], tx: 111, ty: [282, 299]});
volcano({pts: c2Points, fl: 230, ft: 306, fw: 153, fh: 135, xd: [-4.2, 2.5], yd: [-0.28, 7.4], xt: xTicksC2, xl: xLabelsC2, yt: [0,1,2,3,4,5,6,7], ylab: "-log P", title: ["Current (n=34) vs.", "Never (n=85)"], tx: 303, ty: [280, 297]});
volcano({pts: d1Points, fl: 448, ft: 306, fw: 149, fh: 136, xd: [-1.1, 1.03], yd: [-0.18, 4.68], xt: xTicksD, xl: xLabelsD, yt: [0,1,2,3,4], ylab: "\u2212logP", title: ["Duration >20 Years", "(Ever) (n=27) vs.", "Never (n=85)"], tsize: 13.5, tx: 523, ty: [265, 281, 297]});
volcano({pts: d2Points, fl: 638, ft: 306, fw: 153, fh: 136, xd: [-1.12, 1.13], yd: [-0.13, 3.47], xt: xTicksD, xl: xLabelsD, yt: [0,1,2,3], ylab: "\u2212logP", title: ["Duration \u226420 Years", "(Ever) (n=38) vs.", "Never (n=85)"], tsize: 13.5, tx: 714, ty: [266, 282, 298]});
volcano({pts: ePoints, fl: 73, ft: 569, fw: 142, fh: 135, xd: [-1.65, 1.1], yd: [-0.14, 3.66], xt: xTicksE, xl: xLabelsE, yt: [0,1,2,3], ylab: "-log P", title: ["Ever (n=36) vs.", "Never (n=44)"], tx: 147, ty: [543, 560]});

// panel letters and group titles
addLabel("A", 25, 15, {size: 17, bold: true});
addLabel("All tumors", 206, 15, {size: 16});
addLabel("B", 431, 20, {size: 17, bold: true});
addLabel("HR+", 621, 15, {size: 16});
addLabel("C", 25, 250, {size: 17, bold: true});
addLabel("HR-", 219, 248, {size: 16});
addLabel("D", 431, 247, {size: 17, bold: true});
addLabel("HR-", 624, 245, {size: 16});
addLabel("E", 25, 503, {size: 17, bold: true});
addLabel("Basal-like", 145, 516, {size: 16});

// ---------------- bar chart F ----------------
const fRows = [];
barGroups.forEach((g, i) => fRows.push({group: g, slot: barSlots[i], type: "Hyper", count: hyperCounts[i]}));
barGroups.forEach((g, i) => fRows.push({group: g, slot: barSlots[i], type: "Hypo", count: hypoCounts[i]}));
const fLabelRows = barGroups.map((g, i) => ({group: g, slot: barSlots[i], label: barLabels[i]}));
const fHeaderRows = groupKeys.map((k, i) => ({key: k, name: groupNames[i], level: headerLevel}));

const FL = 354, FT = 506, FW = 413, FH = 193;
const FML = 60, FMR = 2, FMT = 2, FMB = 50;
const fChart = Plot.plot({
  width: FW + FML + FMR,
  height: FH + FMT + FMB,
  marginLeft: FML, marginRight: FMR, marginTop: FMT, marginBottom: FMB,
  style: {fontFamily: FONT, fontSize: "13px", color: "#111", background: "transparent"},
  fx: {domain: groupKeys, padding: 0, axis: null},
  x: {domain: ["first","second"], paddingInner: 0.58, paddingOuter: 0.29, axis: null},
  y: {domain: [0,160], ticks: fTicks, tickSize: 4, label: null},
  color: {domain: ["Hypo","Hyper"], range: ["#111111","#cdcdcd"]},
  marks: [
    Plot.ruleY(fGrid, {stroke: "#444", strokeWidth: 0.9}),
    Plot.barY(fRows, {fx: "group", x: "slot", y: "count", fill: "type", stroke: "#555", strokeWidth: 0.6}),
    Plot.frame({stroke: "#333", strokeWidth: 1}),
    Plot.text(fHeaderRows, {fx: "key", y: "level", text: "name", fontSize: 15.5}),
    Plot.text(fLabelRows, {fx: "group", x: "slot", text: "label", frameAnchor: "bottom", dy: 6, lineAnchor: "top", fontSize: 13.5, lineHeight: 1.05})
  ]
});
const fHolder = document.createElement("div");
fHolder.className = "chart";
fHolder.style.left = (FL - FML) + "px";
fHolder.style.top = (FT - FMT) + "px";
fHolder.appendChild(fChart);
root.appendChild(fHolder);

addLabel("F", 300, 487, {size: 17, bold: true});
addLabel("No. differentially\nmethylated CpGs", FL - 44, FT + FH / 2 - 20, {size: 13.5, rotate: -90, multi: true});
addLabel("Smokers vs. Never smokers", FL + FW / 2, 737, {size: 15});

// legend
const leg = document.createElement("div");
leg.style.cssText = "position:absolute;left:358px;top:536px;width:76px;height:35px;background:#fff;border:1px solid #555;font-size:14px;line-height:1;";
leg.innerHTML =
  '<div style="position:absolute;left:5px;top:5px;width:10px;height:10px;background:#111;border:1px solid #333"></div>' +
  '<div style="position:absolute;left:21px;top:4px;">Hypo</div>' +
  '<div style="position:absolute;left:5px;top:20px;width:10px;height:10px;background:#cdcdcd;border:1px solid #555"></div>' +
  '<div style="position:absolute;left:21px;top:19px;">Hyper</div>';
root.appendChild(leg);
</script>
</body>
</html>
